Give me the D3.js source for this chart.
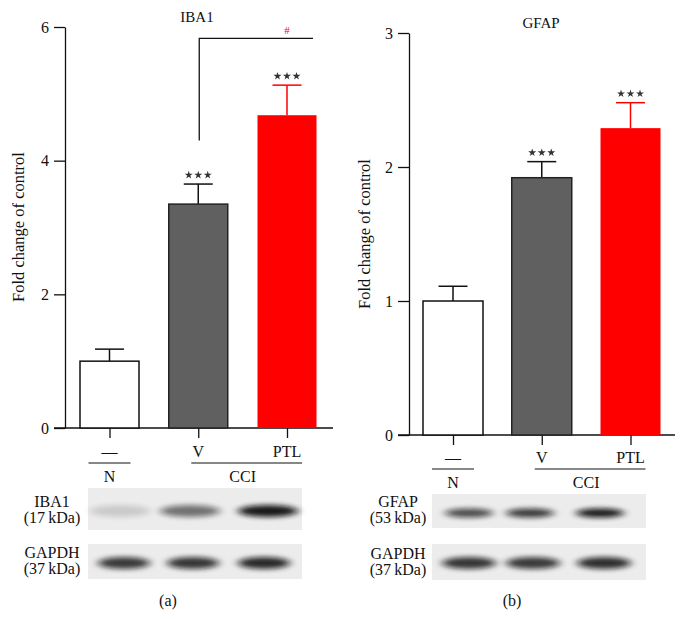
<!DOCTYPE html>
<html>
<head>
<meta charset="utf-8">
<script src="https://cdn.jsdelivr.net/npm/d3@7"></script>
<style>
  body { margin: 0; background: #fff; }
  svg { font-family: "Liberation Serif", "DejaVu Serif", serif; }
</style>
</head>
<body>
<script>
// groups and tick labels
var groups = ["N", "V", "PTL"];
var groupTicks = ["—", "V", "PTL"];

// IBA1 (panel a)
var iba1Mean = [1.0, 3.35, 4.68];
var iba1Sem = [0.18, 0.30, 0.45];
var iba1Stars = ["", "***", "***"];
var iba1YTicks = [0, 2, 4, 6];

// GFAP (panel b)
var gfapMean = [1.0, 1.92, 2.29];
var gfapSem = [0.11, 0.12, 0.19];
var gfapStars = ["", "***", "***"];
var gfapYTicks = [0, 1, 2, 3];

// western blot band darkness per lane (0..1)
var iba1Bands = [0.15, 0.55, 0.95];
var gapdhBandsA = [0.8, 0.82, 0.88];
var gfapBands = [0.72, 0.8, 0.95];
var gapdhBandsB = [0.82, 0.8, 0.85];

var barFill = ["#ffffff", "#606060", "#ff0000"];
var barStroke = ["#111", "#222", "none"];
var errColor = ["#111", "#111", "#ff0000"];

var svg = d3.select("body").append("svg")
    .attr("width", 686)
    .attr("height", 619);

var defs = svg.append("defs");
defs.append("filter").attr("id", "blur")
    .attr("x", "-50%").attr("y", "-100%").attr("width", "200%").attr("height", "300%")
  .append("feGaussianBlur").attr("stdDeviation", "4 2.5");

function drawPanel(p) {
  var x = d3.scalePoint().domain(groups).range(p.xRange);
  var y = d3.scaleLinear().domain(p.yDomain).range(p.yRange);
  var g = svg.append("g");

  // y axis
  var yAxis = g.append("g")
      .attr("transform", "translate(" + p.axisX + ",0)")
      .call(d3.axisLeft(y).tickValues(p.yTicks).tickFormat(d3.format("d"))
        .tickSize(11).tickSizeOuter(0).tickPadding(5));
  yAxis.selectAll("path, line").attr("stroke", "#111").attr("stroke-width", 1.3);
  yAxis.selectAll("text").attr("font-family", "Liberation Serif").attr("font-size", 16).attr("fill", "#111");

  // x axis line + ticks
  g.append("line")
      .attr("x1", p.axisX - 11).attr("x2", p.xEnd)
      .attr("y1", y(0)).attr("y2", y(0))
      .attr("stroke", "#111").attr("stroke-width", 1.3);
  var xAxis = g.append("g")
      .attr("transform", "translate(0," + y(0) + ")")
      .call(d3.axisBottom(x).tickSize(10).tickFormat(""));
  xAxis.select(".domain").remove();
  xAxis.selectAll("line").attr("stroke", "#111").attr("stroke-width", 1.3);

  // title
  g.append("text")
      .attr("x", p.titleX).attr("y", p.titleY)
      .attr("text-anchor", "middle").attr("font-size", 15).attr("fill", "#111")
      .text(p.title);

  // y label
  g.append("text")
      .attr("transform", "translate(" + p.labelX + "," + p.labelY + ") rotate(-90)")
      .attr("text-anchor", "middle").attr("font-size", 16.5).attr("fill", "#111")
      .text("Fold change of control");

  var bw = p.barWidth;
  // error bars
  groups.forEach(function(k, i) {
    var cx = x(k);
    g.append("line")
        .attr("x1", cx).attr("x2", cx)
        .attr("y1", y(p.mean[i])).attr("y2", y(p.mean[i] + p.sem[i]))
        .attr("stroke", errColor[i]).attr("stroke-width", 1.5);
    g.append("line")
        .attr("x1", cx - 14.5).attr("x2", cx + 14.5)
        .attr("y1", y(p.mean[i] + p.sem[i])).attr("y2", y(p.mean[i] + p.sem[i]))
        .attr("stroke", errColor[i]).attr("stroke-width", 1.5);
  });

  // bars
  g.selectAll(".bar").data(groups).enter().append("rect")
      .attr("x", function(d) { return x(d) - bw / 2; })
      .attr("y", function(d, i) { return y(p.mean[i]); })
      .attr("width", bw)
      .attr("height", function(d, i) { return y(0) - y(p.mean[i]); })
      .attr("fill", function(d, i) { return barFill[i]; })
      .attr("stroke", function(d, i) { return barStroke[i]; })
      .attr("stroke-width", 1.5);

  // significance stars
  groups.forEach(function(k, i) {
    if (!p.stars[i]) return;
    var n = p.stars[i].length;
    for (var j = 0; j < n; j++) {
      g.append("path")
          .attr("d", d3.symbol(d3.symbolStar, 20)())
          .attr("transform", "translate(" + (x(k) + (j - (n - 1) / 2) * 9.5) + "," +
                (y(p.mean[i] + p.sem[i]) - 9) + ")")
          .attr("fill", "#333");
    }
  });

  // group labels under the axis
  groups.forEach(function(k, i) {
    g.append("text")
        .attr("x", x(k)).attr("y", p.tickLabelY)
        .attr("text-anchor", "middle").attr("font-size", 16).attr("fill", "#111")
        .text(groupTicks[i]);
  });
  var ly = p.tickLabelY + 6;
  g.append("line")
      .attr("x1", x("N") - 21).attr("x2", x("N") + 21)
      .attr("y1", ly).attr("y2", ly).attr("stroke", "#111").attr("stroke-width", 1.2);
  g.append("line")
      .attr("x1", x("V") - 7).attr("x2", x("PTL") + 15)
      .attr("y1", ly).attr("y2", ly).attr("stroke", "#111").attr("stroke-width", 1.2);
  g.append("text")
      .attr("x", x("N")).attr("y", ly + 19)
      .attr("text-anchor", "middle").attr("font-size", 16).attr("fill", "#111")
      .text("N");
  g.append("text")
      .attr("x", (x("V") + x("PTL")) / 2).attr("y", ly + 19)
      .attr("text-anchor", "middle").attr("font-size", 16).attr("fill", "#111")
      .text("CCI");

  // blots
  p.blots.forEach(function(b) {
    var bg = g.append("g");
    bg.append("rect")
        .attr("x", p.blotX0).attr("y", b.y0)
        .attr("width", p.blotX1 - p.blotX0).attr("height", b.y1 - b.y0)
        .attr("fill", "#ececec");
    b.bands.forEach(function(v, i) {
      bg.append("ellipse")
          .attr("cx", b.lanes[i]).attr("cy", b.cy)
          .attr("rx", b.rx).attr("ry", b.ry)
          .attr("fill", "#111")
          .attr("opacity", v)
          .attr("filter", "url(#blur)");
    });
    bg.append("text")
        .attr("x", p.blotLabelX).attr("y", b.labelY)
        .attr("text-anchor", "middle").attr("font-size", 16).attr("fill", "#111")
        .text(b.name);
    bg.append("text")
        .attr("x", p.blotLabelX).attr("y", b.labelY + 16)
        .attr("text-anchor", "middle").attr("font-size", 16).attr("fill", "#111")
        .text(b.kda);
  });

  g.append("text")
      .attr("x", p.capX).attr("y", 606)
      .attr("text-anchor", "middle").attr("font-size", 16).attr("fill", "#111")
      .text(p.caption);

  return {x: x, y: y, g: g};
}

var a = drawPanel({
  title: "IBA1", titleX: 197, titleY: 22,
  mean: iba1Mean, sem: iba1Sem, stars: iba1Stars, yTicks: iba1YTicks,
  yDomain: [0, 6], yRange: [428, 27], axisX: 65, xEnd: 333,
  xRange: [109.5, 287], barWidth: 59,
  labelX: 24, labelY: 227, tickLabelY: 457,
  blotX0: 88, blotX1: 302, blotLabelX: 52,
  blots: [
    {name: "IBA1", kda: "(17\u2009kDa)", y0: 488, y1: 530, cy: 511, rx: 30, ry: 6,
     lanes: [120, 190, 268], bands: iba1Bands, labelY: 507},
    {name: "GAPDH", kda: "(37\u2009kDa)", y0: 544, y1: 579, cy: 563, rx: 26, ry: 6,
     lanes: [124, 193, 264], bands: gapdhBandsA, labelY: 558}
  ],
  capX: 168, caption: "(a)"
});

// bracket + # between V and PTL
var bx1 = a.x("V") + 1, bx2 = a.x("PTL") + 26;
a.g.append("path")
    .attr("d", "M" + bx1 + "," + a.y(4.3) + "V" + a.y(5.83) + "H" + bx2)
    .attr("fill", "none").attr("stroke", "#111").attr("stroke-width", 1.3);
a.g.append("text")
    .attr("x", a.x("PTL")).attr("y", a.y(5.83) - 4)
    .attr("text-anchor", "middle").attr("font-size", 11).attr("fill", "#ff0000")
    .text("#");

drawPanel({
  title: "GFAP", titleX: 541, titleY: 28,
  mean: gfapMean, sem: gfapSem, stars: gfapStars, yTicks: gfapYTicks,
  yDomain: [0, 3], yRange: [435, 33], axisX: 409, xEnd: 675,
  xRange: [453, 630.5], barWidth: 60,
  labelX: 370, labelY: 234, tickLabelY: 463,
  blotX0: 432, blotX1: 646, blotLabelX: 398,
  blots: [
    {name: "GFAP", kda: "(53\u2009kDa)", y0: 494, y1: 528, cy: 513, rx: 24, ry: 4.5,
     lanes: [469, 530, 600], bands: gfapBands, labelY: 507},
    {name: "GAPDH", kda: "(37\u2009kDa)", y0: 544, y1: 580, cy: 563, rx: 27, ry: 6,
     lanes: [469, 533, 604], bands: gapdhBandsB, labelY: 559}
  ],
  capX: 512, caption: "(b)"
});
</script>
</body>
</html>
